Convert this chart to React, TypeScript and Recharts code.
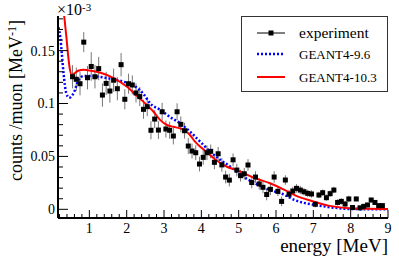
import { ComposedChart, Line, Scatter, ErrorBar, XAxis, YAxis, Legend } from 'recharts';

const FONT = '"Liberation Serif", "Times New Roman", serif';

// experiment: bin centres [MeV], counts/muon [x1e-3 MeV^-1], stat. errors
const energy = [
  0.55, 0.65, 0.75, 0.85, 0.95, 1.05, 1.15, 1.25, 1.35, 1.45, 1.55, 1.65, 1.75, 1.85, 1.95,
  2.05, 2.15, 2.25, 2.35, 2.45, 2.55, 2.65, 2.75, 2.85, 2.95,
  3.05, 3.15, 3.25, 3.35, 3.45, 3.55, 3.65, 3.75, 3.85, 3.95,
  4.05, 4.15, 4.25, 4.35, 4.45, 4.55, 4.65, 4.75, 4.85, 4.95,
  5.05, 5.15, 5.25, 5.35, 5.45, 5.55, 5.65, 5.75, 5.85, 5.95,
  6.05, 6.15, 6.25, 6.35, 6.45, 6.55, 6.65, 6.75, 6.85, 6.95,
  7.05, 7.15, 7.25, 7.35, 7.45, 7.55, 7.65, 7.75, 7.85, 7.95,
  8.05, 8.15, 8.25, 8.35, 8.45, 8.55, 8.65, 8.75, 8.85,
];
const counts = [
  0.1253, 0.1229, 0.1187, 0.158, 0.1244, 0.135, 0.1253, 0.133, 0.108, 0.119, 0.1118, 0.122, 0.114, 0.1367, 0.104,
  0.1187, 0.1175, 0.11, 0.1065, 0.0945, 0.097, 0.0747, 0.0853, 0.0749, 0.0922,
  0.0759, 0.0747, 0.0693, 0.0922, 0.0803, 0.0743, 0.0598, 0.0551, 0.0535, 0.0428,
  0.0491, 0.0535, 0.0548, 0.0444, 0.0525, 0.042, 0.0305, 0.0276, 0.0468, 0.0371,
  0.0318, 0.0336, 0.0419, 0.0253, 0.0305, 0.024, 0.0208, 0.014, 0.0189, 0.0305,
  0.017, 0.0075, 0.0277, 0.0142, 0.0173, 0.0198, 0.0182, 0.0166, 0.0151, 0.0145,
  0.0048, 0.0135, 0.0157, 0.011, 0.0148, 0.0182, 0.0065, 0.0075, 0.005, 0.0098,
  0.0017, 0.0098, 0.0014, 0.0028, 0.0041, 0.0088, 0.0065, 0.0035, 0.0035,
];
const countErr = [
  0.011, 0.011, 0.011, 0.0095, 0.011, 0.0135, 0.011, 0.011, 0.011, 0.011, 0.011, 0.011, 0.011, 0.011, 0.0095,
  0.0095, 0.009, 0.009, 0.009, 0.009, 0.009, 0.0085, 0.0085, 0.0085, 0.0085,
  0.008, 0.008, 0.008, 0.008, 0.0075, 0.0075, 0.0075, 0.007, 0.007, 0.007,
  0.007, 0.007, 0.0065, 0.0065, 0.0065, 0.0065, 0.006, 0.006, 0.006, 0.006,
  0.0055, 0.0055, 0.0055, 0.0055, 0.0055, 0.0055, 0.0055, 0.0055, 0.0055, 0.0055,
  0.0045, 0.0045, 0.0045, 0.004, 0.004, 0.004, 0.004, 0.0035, 0.0035, 0.0035,
  0.003, 0.003, 0.003, 0.003, 0.003, 0.003, 0.003, 0.003, 0.003, 0.003,
  0.0022, 0.0022, 0.0022, 0.0022, 0.0022, 0.0022, 0.0022, 0.0022, 0.0022,
];

// GEANT4-9.6 simulation
const g496Energy = [
  0.17, 0.22, 0.26, 0.31, 0.38, 0.46, 0.58, 0.71, 0.85, 1.05, 1.3, 1.65, 2.0, 2.25, 2.45, 2.63,
  2.9, 3.17, 3.43, 3.7, 3.97, 4.24, 4.51, 4.75, 5.05, 5.44, 5.8, 6.24, 6.5, 7.05, 7.4, 8.0, 8.5, 9.0,
];
const g496Counts = [
  0.172, 0.163, 0.148, 0.128, 0.11, 0.1055, 0.11, 0.122, 0.126, 0.126, 0.125, 0.1228, 0.1196, 0.1155, 0.109, 0.1,
  0.094, 0.087, 0.0813, 0.0733, 0.0639, 0.0544, 0.0466, 0.041, 0.0325, 0.0246, 0.0188, 0.0135, 0.0088, 0.0041, 0.0022, 0.0003, 0.0001, 0,
];

// GEANT4-10.3 simulation
const g4103Energy = [
  0.26, 0.3, 0.34, 0.39, 0.43, 0.48, 0.53, 0.6, 0.7, 0.85, 1.05, 1.3, 1.65, 2.0, 2.28, 2.54, 2.72,
  2.9, 3.08, 3.25, 3.43, 3.57, 3.7, 3.83, 3.97, 4.15, 4.33, 4.51, 4.7, 4.95, 5.4, 5.84, 6.24, 6.5,
  7.0, 7.4, 8.0, 8.5, 9.0,
];
const g4103Counts = [
  0.215, 0.192, 0.178, 0.161, 0.146, 0.132, 0.127, 0.1285, 0.131, 0.132, 0.131, 0.129, 0.124, 0.116, 0.107, 0.0986, 0.0922,
  0.0843, 0.0797, 0.078, 0.0765, 0.0743, 0.07, 0.0639, 0.0592, 0.0539, 0.0482, 0.0438, 0.04, 0.0371, 0.03, 0.0246, 0.0182, 0.0135,
  0.0075, 0.0035, 0.001, 0.0005, 0.0003,
];

const xMajorTicks = [1, 2, 3, 4, 5, 6, 7, 8, 9];
const yMajorTicks = [0, 0.05, 0.1, 0.15];

const xDomain = [0.16, 9.0];
const yDomain = [-0.0082, 0.1827];

const expData = energy.map((e, i) => ({ e, v: counts[i], err: countErr[i] }));
const g496Data = g496Energy.map((e, i) => ({ e, v: g496Counts[i] }));
const g4103Data = g4103Energy.map((e, i) => ({ e, v: g4103Counts[i] }));

// minor ticks: 0.2 MeV on x, 0.01 on y
const xTicks: number[] = [];
for (let k = 1; k <= 45; k++) xTicks.push(Math.round(k * 2) / 10);
const yTicks: number[] = [];
for (let k = 0; k <= 18; k++) yTicks.push(k / 100);

const isMajor = (v: number, list: number[]) => list.some((m) => Math.abs(m - v) < 1e-6);

const renderXTick = (props: any) => {
  const { x, y, payload } = props;
  const major = isMajor(payload.value, xMajorTicks);
  return (
    <g>
      <line x1={x} y1={y} x2={x} y2={y - (major ? 8 : 4)} stroke="#000" strokeWidth={1} />
      {major && (
        <text x={x} y={y + 15} textAnchor="middle" fontSize={14} fontFamily={FONT} fill="#000">
          {payload.value}
        </text>
      )}
    </g>
  );
};

const renderYTick = (props: any) => {
  const { x, y, payload } = props;
  const major = isMajor(payload.value, yMajorTicks);
  return (
    <g>
      <line x1={x} y1={y} x2={x + (major ? 10 : 5)} y2={y} stroke="#000" strokeWidth={1} />
      {major && (
        <text x={x - 3} y={y} dy="0.35em" textAnchor="end" fontSize={14} fontFamily={FONT} fill="#000">
          {payload.value === 0 ? '0' : String(payload.value)}
        </text>
      )}
    </g>
  );
};

const renderYTitle = (props: any) => {
  const vb = props.viewBox;
  return (
    <g>
      <text
        transform={`translate(${vb.x + 22}, ${vb.y + 4}) rotate(-90)`}
        textAnchor="end"
        fontSize={18}
        fontFamily={FONT}
        fill="#000"
      >
        counts /muon [MeV
        <tspan dy={-6} fontSize={12}>-1</tspan>
        <tspan dy={6}>]</tspan>
      </text>
      <text x={vb.x + vb.width - 1} y={15} fontSize={16} fontFamily={FONT} fill="#000">
        ×10
        <tspan dy={-4.5} fontSize={11}>-3</tspan>
      </text>
    </g>
  );
};

const renderXTitle = (props: any) => {
  const vb = props.viewBox;
  return (
    <text x={vb.x + vb.width} y={vb.y + 34} textAnchor="end" fontSize={19} fontFamily={FONT} fill="#000">
      energy [MeV]
    </text>
  );
};

const renderLegend = () => (
  <svg width={147} height={76} style={{ display: 'block' }}>
    <rect x={0.5} y={0.5} width={146} height={75} fill="#fff" stroke="#333" strokeWidth={1} />
    <line x1={16} y1={17} x2={44} y2={17} stroke="#000" strokeWidth={1} />
    <rect x={27.5} y={14.5} width={5} height={5} fill="#000" />
    <text x={58} y={22} fontSize={15.5} fontFamily={FONT} fill="#000">experiment</text>
    <line x1={16} y1={38} x2={44} y2={38} stroke="#0000ff" strokeWidth={2.5} strokeDasharray="2 2" />
    <text x={58} y={43} fontSize={13} fontFamily={FONT} fill="#000">GEANT4-9.6</text>
    <line x1={16} y1={61} x2={44} y2={61} stroke="#ff0000" strokeWidth={2} />
    <text x={58} y={66} fontSize={13} fontFamily={FONT} fill="#000">GEANT4-10.3</text>
  </svg>
);

const renderSquare = (props: any) => (
  <rect x={props.cx - 2.5} y={props.cy - 2.5} width={5} height={5} fill="#000" />
);

export default function App() {
  return (
    <div style={{ position: 'absolute', left: 0, top: 0, width: 399, height: 260, background: '#fff' }}>
      <ComposedChart width={399} height={260} margin={{ top: 16, right: 11, bottom: 0, left: 0 }}>
        <XAxis
          dataKey="e"
          type="number"
          domain={xDomain}
          allowDataOverflow
          ticks={xTicks}
          interval={0}
          tickSize={0}
          tickMargin={0}
          tick={renderXTick}
          tickLine={false}
          height={42}
          axisLine={{ stroke: '#000', strokeWidth: 2 }}
          label={renderXTitle}
        />
        <XAxis
          xAxisId="top"
          orientation="top"
          type="number"
          domain={xDomain}
          allowDataOverflow
          height={0}
          tick={false}
          tickLine={false}
          axisLine={{ stroke: '#000', strokeWidth: 2 }}
        />
        <YAxis
          type="number"
          domain={yDomain}
          allowDataOverflow
          ticks={yTicks}
          interval={0}
          tickSize={0}
          tickMargin={0}
          tick={renderYTick}
          tickLine={false}
          width={58}
          axisLine={{ stroke: '#000', strokeWidth: 2 }}
          label={renderYTitle}
        />
        <YAxis
          yAxisId="right"
          orientation="right"
          type="number"
          domain={yDomain}
          allowDataOverflow
          width={0}
          tick={false}
          tickLine={false}
          axisLine={{ stroke: '#000', strokeWidth: 2 }}
        />
        <Scatter data={expData} dataKey="v" shape={renderSquare} isAnimationActive={false}>
          <ErrorBar dataKey="err" direction="y" width={0} stroke="#777" strokeWidth={1} />
        </Scatter>
        <Line
          data={g496Data}
          dataKey="v"
          type="monotone"
          stroke="#0000ff"
          strokeWidth={2.5}
          strokeDasharray="2 2"
          dot={false}
          isAnimationActive={false}
        />
        <Line
          data={g4103Data}
          dataKey="v"
          type="monotone"
          stroke="#ff0000"
          strokeWidth={2}
          dot={false}
          isAnimationActive={false}
        />
        <Legend
          layout="vertical"
          align="center"
          verticalAlign="middle"
          content={renderLegend}
          wrapperStyle={{ left: 241, top: 16, width: 147, height: 76 }}
        />
      </ComposedChart>
    </div>
  );
}
